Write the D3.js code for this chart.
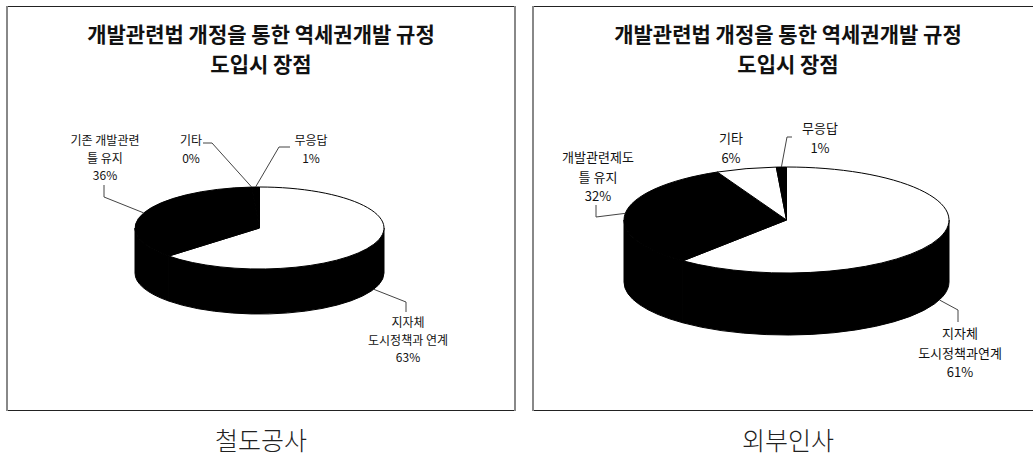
<!DOCTYPE html>
<html><head><meta charset="utf-8">
<script src="https://cdn.jsdelivr.net/npm/d3@7"></script>
<style>
html,body{margin:0;padding:0;background:#fff;}
svg{display:block;}
text{font-family:"Noto Sans CJK KR","Noto Sans",sans-serif;fill:#111;}
</style></head>
<body>
<svg id="c" width="1033" height="459"></svg>
<script>
// ---- data ----
const titleLines = ["개발관련법 개정을 통한 역세권개발 규정", "도입시 장점"];
const leftCaption = "철도공사";
const rightCaption = "외부인사";
const leftCategories = ["지자체\n도시정책과 연계", "기존 개발관련\n틀 유지", "기타", "무응답"];
const leftValues = [63, 36, 0, 1];
const rightCategories = ["지자체\n도시정책과연계", "개발관련제도\n틀 유지", "기타", "무응답"];
const rightValues = [61, 32, 6, 1];
const sliceColors = ["#ffffff", "#000000", "#ffffff", "#000000"];

// ---- layout (positions / styles) ----
const panels = [
  {x0:7, x1:515, cx:259.5, cy:228, rx:124.5, ry:41, depth:45, titleX:261, fs:12, lh:17.5,
   caption:leftCaption, categories:leftCategories, values:leftValues,
   labels:[
     {x:408, y:327, leader:[[406,302],[406,312]]},
     {x:105, y:145, leader:[[104,197],[104,185]]},
     {x:191, y:145, leader:[[212,143],[203,143]]},
     {x:311, y:145, leader:[[279,147],[290,147]]}
   ]},
  {x0:533, x1:1041, cx:786.5, cy:220, rx:162.5, ry:53, depth:62, titleX:788, fs:13, lh:19.5,
   caption:rightCaption, categories:rightCategories, values:rightValues,
   labels:[
     {x:960, y:338, leader:[[958,310],[958,322]]},
     {x:598, y:162, leader:[[596,217],[596,205]]},
     {x:731, y:143, leader:null},
     {x:820, y:133, leader:[[787,137],[792,137]]}
   ]}
];

const svg = d3.select("#c");

panels.forEach(p => {
  const g = svg.append("g");
  // frame
  g.append("line").attr("x1",p.x0).attr("x2",p.x1).attr("y1",6.5).attr("y2",6.5).attr("stroke","#222").attr("stroke-width",1);
  g.append("line").attr("x1",p.x0).attr("x2",p.x1).attr("y1",410.5).attr("y2",410.5).attr("stroke","#222").attr("stroke-width",1.2);
  g.append("line").attr("x1",p.x0).attr("x2",p.x0).attr("y1",6).attr("y2",411).attr("stroke","#888").attr("stroke-width",2);
  g.append("line").attr("x1",p.x1).attr("x2",p.x1).attr("y1",6).attr("y2",411).attr("stroke","#888").attr("stroke-width",2);

  // title
  titleLines.forEach((t,i) => {
    g.append("text").attr("x",p.titleX).attr("y",42 + i*30).attr("text-anchor","middle")
      .style("font-size","21px").style("font-weight","700").text(t);
  });

  // caption
  svg.append("text").attr("x",p.titleX).attr("y",450).attr("text-anchor","middle")
    .style("font-size","25px").style("font-weight","300").style("fill","#222").text(p.caption);

  // pie
  const arcs = d3.pie().sort(null).value(d => d)(p.values);
  const pt = (a, dy=0) => [p.cx + p.rx*Math.sin(a), p.cy - p.ry*Math.cos(a) + dy];

  // side walls (front half)
  arcs.forEach(a => {
    const s = Math.max(a.startAngle, Math.PI/2), e = Math.min(a.endAngle, 3*Math.PI/2);
    if (s >= e) return;
    const [x1,y1] = pt(s), [x2,y2] = pt(e);
    const path = `M${x1},${y1} A${p.rx},${p.ry} 0 0 1 ${x2},${y2} L${x2},${y2+p.depth} A${p.rx},${p.ry} 0 0 0 ${x1},${y1+p.depth} Z`;
    g.append("path").attr("d",path).attr("fill","#000").attr("stroke","#000").attr("stroke-width",1);
  });

  // top faces
  const arcGen = d3.arc().innerRadius(0).outerRadius(p.rx);
  const top = g.append("g").attr("transform",`translate(${p.cx},${p.cy}) scale(1,${p.ry/p.rx})`);
  arcs.forEach((a,i) => {
    if (a.endAngle - a.startAngle <= 0) return;
    top.append("path").attr("d",arcGen(a)).attr("fill",sliceColors[i])
      .attr("stroke","#000").attr("stroke-width",1).attr("vector-effect","non-scaling-stroke");
  });

  // labels + leaders
  arcs.forEach((a,i) => {
    const L = p.labels[i];
    const mid = (a.startAngle + a.endAngle)/2;
    const front = Math.cos(mid) < 0;
    const start = pt(mid, front ? p.depth : 0);
    if (L.leader) {
      const pts = [start].concat(L.leader);
      g.append("path").attr("d",d3.line()(pts)).attr("fill","none").attr("stroke","#444").attr("stroke-width",1);
    }
    const lines = p.categories[i].split("\n").concat([p.values[i] + "%"]);
    lines.forEach((t,k) => {
      g.append("text").attr("x",L.x).attr("y",L.y + k*p.lh).attr("text-anchor","middle")
        .style("font-size",p.fs+"px").text(t);
    });
  });
});
</script>
</body></html>
